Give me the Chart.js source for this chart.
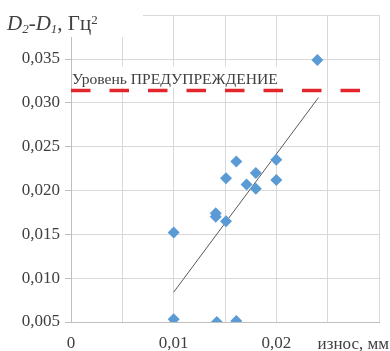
<!DOCTYPE html>
<html>
<head>
<meta charset="utf-8">
<script src="https://cdn.jsdelivr.net/npm/chart.js@4"></script>
<style>
  html, body { margin: 0; padding: 0; background: #fff; }
  #box { width: 390px; height: 351px; }
</style>
</head>
<body>
<div id="box"><canvas id="myChart" width="390" height="351"></canvas></div>
<script>
// wear, mm
let wear = [0.024, 0.010, 0.010, 0.0142, 0.0161, 0.0141, 0.0141, 0.0151, 0.0151, 0.0161, 0.0171, 0.0180, 0.0180, 0.0200, 0.0200];
// D2-D1, Hz^2
let diff = [0.0349, 0.0152, 0.0053, 0.0050, 0.0051, 0.0174, 0.0170, 0.0165, 0.0214, 0.0233, 0.0207, 0.0220, 0.0202, 0.0235, 0.0212];

// trend line ends
let trendX = [0.010, 0.0241];
let trendY = [0.0084, 0.0306];

// warning level
let warnLevel = 0.0314;
let warnText = "Уровень ПРЕДУПРЕЖДЕНИЕ";

// ticks
let xTicks = [0, 0.005, 0.01, 0.015, 0.02, 0.025, 0.03];
let xTickLabels = ["0", "", "0,01", "", "0,02", "", ""];
let yTicks = [0.005, 0.01, 0.015, 0.02, 0.025, 0.03, 0.035, 0.04];
let yTickLabels = ["0,005", "0,010", "0,015", "0,020", "0,025", "0,030", "0,035", ""];

let xTitle = "износ, мм";

let serif = "'Liberation Serif', 'Times New Roman', serif";

// title + warning label + x axis title
let decor = {
	id: 'decor',
	beforeDatasetsDraw(chart) {
		let ctx = chart.ctx;
		let x = chart.scales.x, y = chart.scales.y;
		let yy = y.getPixelForValue(warnLevel);
		ctx.save();
		ctx.fillStyle = '#fff';
		ctx.fillRect(x.left + 1, yy - 24, 208, 21);
		ctx.font = "15.6px " + serif;
		ctx.fillStyle = '#404040';
		ctx.textBaseline = 'alphabetic';
		ctx.fillText(warnText, x.left + 1, yy - 7);
		ctx.restore();
	},
	afterDraw(chart) {
		let ctx = chart.ctx;
		ctx.save();
		ctx.fillStyle = '#fff';
		ctx.fillRect(0, 0, 143, 37);
		ctx.fillStyle = '#404040';
		ctx.textBaseline = 'alphabetic';
		let px = 7, base = 30;
		let parts = [
			["italic 21px ", "D", 0],
			["italic 13px ", "2", 3],
			["21px ", "-", 0],
			["italic 21px ", "D", 0],
			["italic 13px ", "1", 3],
			["21px ", ", Гц", 0],
			["13px ", "2", -6]
		];
		parts.forEach(p => {
			ctx.font = p[0] + serif;
			ctx.fillText(p[1], px, base + p[2]);
			px += ctx.measureText(p[1]).width;
		});
		// x axis title
		ctx.font = "17px " + serif;
		ctx.textAlign = 'right';
		ctx.fillText(xTitle, 389, 349);
		ctx.restore();
	}
};

let ctx = document.getElementById('myChart').getContext('2d');

let chart = new Chart(ctx, {
	type: 'scatter',
	data: {
		datasets: [{
			label: 'points',
			data: wear.map((w, i) => ({ x: w, y: diff[i] })),
			pointStyle: 'rectRot',
			pointRadius: 6,
			backgroundColor: '#5b9bd5',
			borderColor: '#5b9bd5',
			borderWidth: 0,
			order: 1
		}, {
			label: 'trend',
			type: 'line',
			data: trendX.map((t, i) => ({ x: t, y: trendY[i] })),
			borderColor: '#595959',
			borderWidth: 1,
			pointRadius: 0,
			fill: false,
			order: 2
		}, {
			label: 'warn',
			type: 'line',
			data: [{ x: 0, y: warnLevel }, { x: 0.03, y: warnLevel }],
			borderColor: '#e3262c',
			borderWidth: 3.5,
			borderDash: [19.5, 19],
			pointRadius: 0,
			fill: false,
			order: 3
		}]
	},
	options: {
		responsive: false,
		animation: false,
		layout: { padding: { top: 15, right: 7, left: 0, bottom: 0 } },
		plugins: {
			legend: { display: false },
			tooltip: { enabled: false }
		},
		scales: {
			x: {
				type: 'linear',
				min: 0,
				max: 0.03,
				afterBuildTicks: s => { s.ticks = xTicks.map(v => ({ value: v })); },
				afterFit: s => { s.height = 29; },
				grid: { color: '#d9d9d9', drawTicks: false },
				border: { color: '#bfbfbf' },
				ticks: {
					padding: 11,
					maxRotation: 0,
					autoSkip: false,
					color: '#404040',
					font: { family: serif, size: 17 },
					callback: (v, i) => xTickLabels[i]
				}
			},
			y: {
				min: 0.005,
				max: 0.04,
				afterBuildTicks: s => { s.ticks = yTicks.map(v => ({ value: v })); },
				afterFit: s => { s.width = 71; },
				grid: { color: '#d9d9d9', tickLength: 6, tickColor: '#bfbfbf' },
				border: { color: '#bfbfbf' },
				ticks: {
					padding: 5,
					autoSkip: false,
					color: '#404040',
					font: { family: serif, size: 17 },
					callback: (v, i) => yTickLabels[i]
				}
			}
		}
	},
	plugins: [decor]
});
</script>
</body>
</html>
